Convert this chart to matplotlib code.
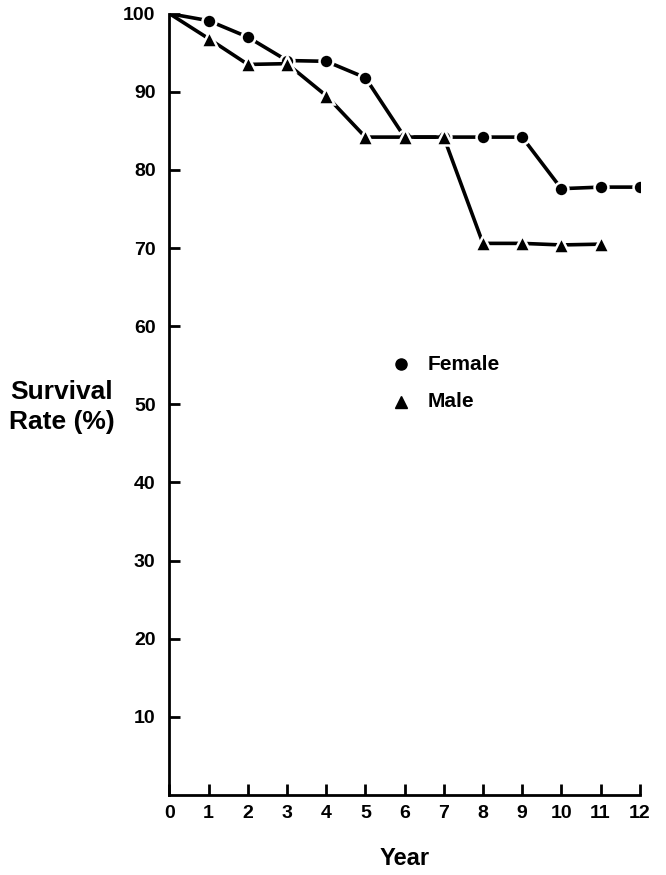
import numpy as np
import matplotlib
matplotlib.use("Agg")
from matplotlib import pyplot as plt

plt.rcParams['font.family'] = ['Liberation Sans', 'DejaVu Sans']
plt.rcParams['font.weight'] = 'bold'

# survival rates read per year
years_female = [0, 1, 2, 3, 4, 5, 6, 7, 8, 9, 10, 11, 12]
female = [100, 99.1, 97.0, 94.0, 93.9, 91.8, 84.2, 84.2, 84.2, 84.2, 77.6, 77.8, 77.8]
years_male = [0, 1, 2, 3, 4, 5, 6, 7, 8, 9, 10, 11]
male = [100, 96.8, 93.5, 93.6, 89.5, 84.2, 84.2, 84.2, 70.6, 70.6, 70.4, 70.5]

xticks = list(range(0, 13))
yticks = [10, 20, 30, 40, 50, 60, 70, 80, 90, 100]

fig = plt.figure(figsize=(6.66, 8.75), dpi=100)
ax = fig.add_axes([0.2545, 0.0914, 0.706, 0.893])

ax.plot(years_female, female, '-', color='black', lw=2.6, marker='o', ms=10,
        mfc='black', mec='white', mew=1.8, markevery=list(range(1, len(female))),
        zorder=3)
ax.plot(years_male, male, '-', color='black', lw=2.6, marker='^', ms=11,
        mfc='black', mec='white', mew=1.8, markevery=list(range(1, len(male))),
        zorder=3)

ax.set_xlim(0, 12)
ax.set_ylim(0, 100)
ax.set_xticks(xticks)
ax.set_yticks(yticks)
ax.spines['top'].set_visible(False)
ax.spines['right'].set_visible(False)
for s in ['left', 'bottom']:
    ax.spines[s].set_linewidth(2)
ax.tick_params(direction='in', length=8, width=2, labelsize=14)
ax.tick_params(axis='x', pad=7)
ax.tick_params(axis='y', pad=10)
for lab in ax.get_xticklabels() + ax.get_yticklabels():
    lab.set_fontweight('bold')

ax.set_xlabel('Year', fontsize=17, fontweight='bold', va='center')
ax.xaxis.set_label_coords(0.5, -0.081)
fig.text(0.093, 0.535, 'Survival\nRate (%)', fontsize=19, fontweight='bold',
         ha='center', va='center', linespacing=1.3)

# legend drawn as marker + label
ax.plot([5.92], [55.1], 'o', color='black', ms=8, clip_on=False)
ax.text(6.58, 55.1, 'Female', fontsize=15, fontweight='bold', va='center')
ax.plot([5.92], [50.3], '^', color='black', ms=9, clip_on=False)
ax.text(6.58, 50.3, 'Male', fontsize=15, fontweight='bold', va='center')

fig.savefig('out.png', dpi=100)
